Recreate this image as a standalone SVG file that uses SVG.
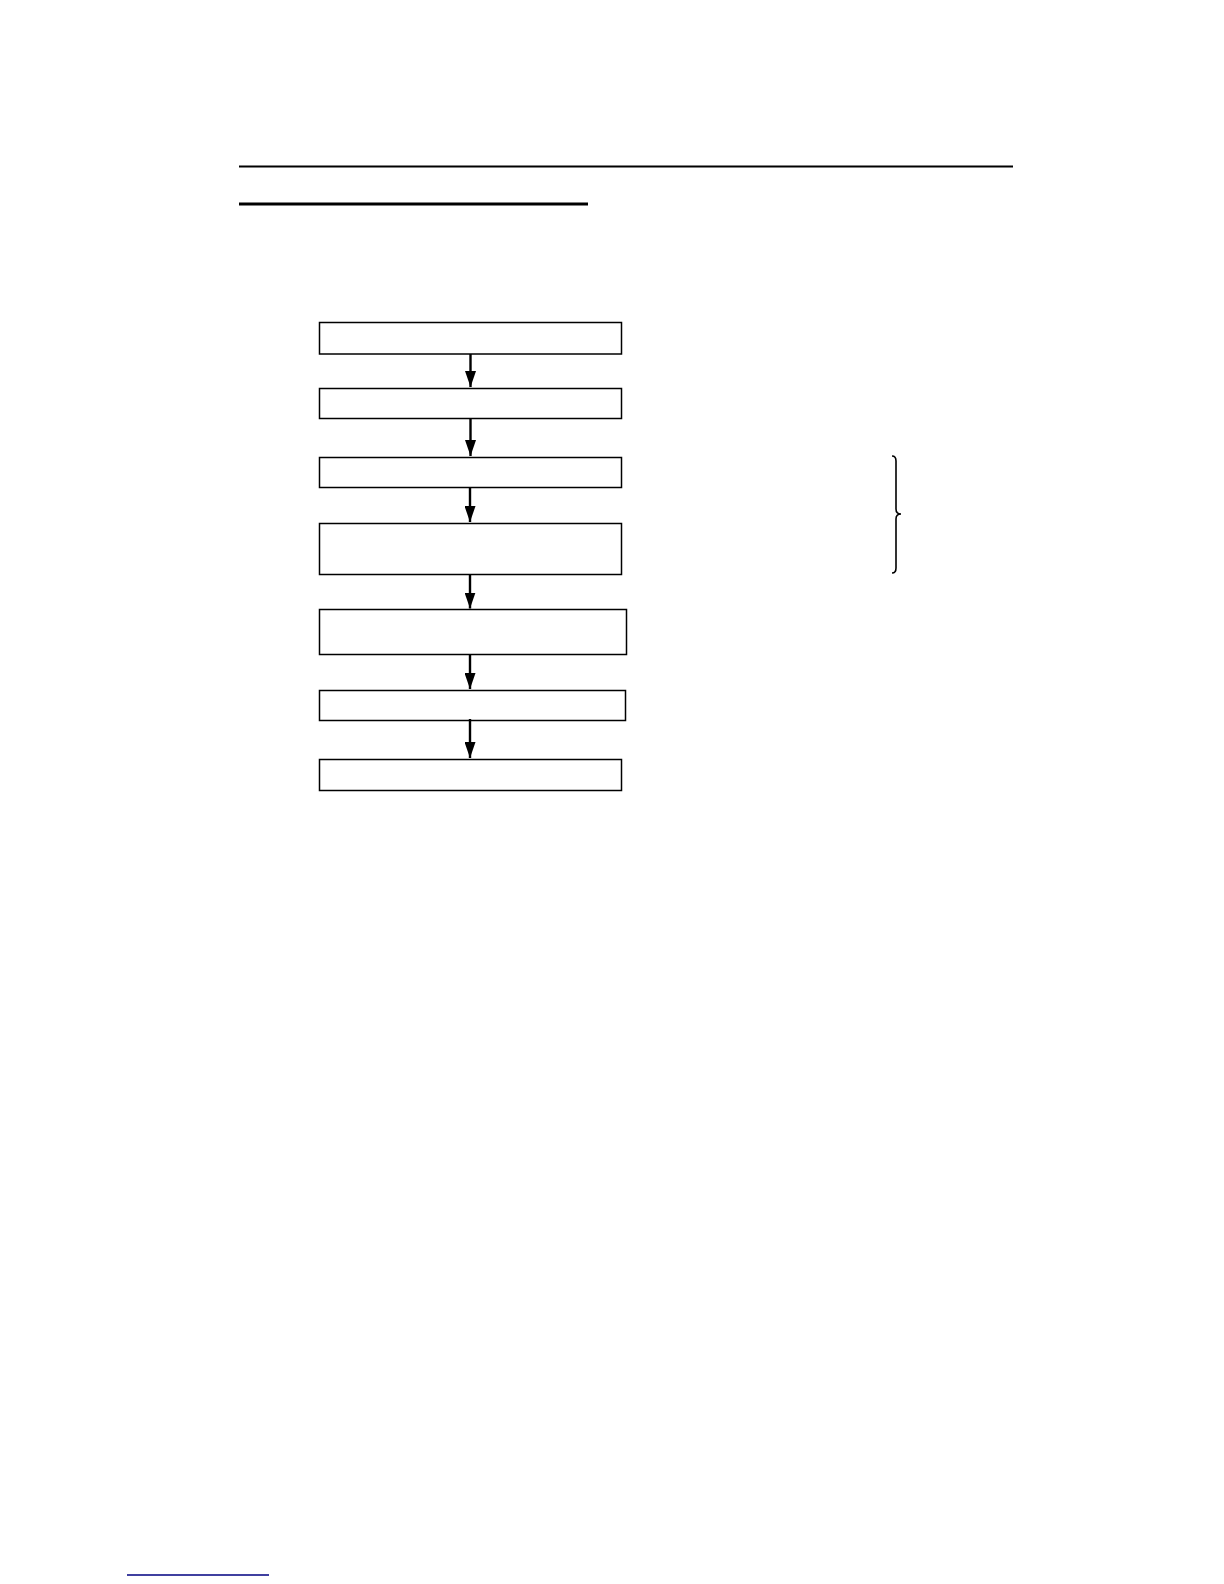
<svg xmlns="http://www.w3.org/2000/svg" width="1224" height="1584" viewBox="0 0 1224 1584">
<style>
.box{fill:#fff;stroke:#000;stroke-width:1.5}
.conn{stroke:#000;stroke-width:2.4;fill:none}
</style>
<defs>
<marker id="ah" markerWidth="16" markerHeight="11" refX="16" refY="5.5" orient="auto" markerUnits="userSpaceOnUse" viewBox="0 0 16 11">
<path d="M0,0 L16,5.5 L0,11 Z" fill="#000"/>
</marker>
</defs>
<rect width="1224" height="1584" fill="#fff"/>
<line x1="239" y1="166.5" x2="1013" y2="166.5" stroke="#000" stroke-width="2.2"/>
<line x1="239" y1="204" x2="588" y2="204" stroke="#000" stroke-width="3"/>
<g id="n1"><rect class="box" x="319.5" y="322.5" width="302" height="31.5"/></g>
<g id="n2"><rect class="box" x="319.5" y="388.5" width="302" height="30"/></g>
<g id="n3"><rect class="box" x="319.5" y="457.5" width="302" height="30"/></g>
<g id="n4"><rect class="box" x="319.5" y="523.5" width="302" height="51"/></g>
<g id="n5"><rect class="box" x="319.5" y="609.5" width="307" height="45"/></g>
<g id="n6"><rect class="box" x="319.5" y="690.5" width="306" height="30"/></g>
<g id="n7"><rect class="box" x="319.5" y="759.5" width="302" height="31"/></g>
<g id="connectors">
<line class="conn" x1="470.5" y1="354" x2="470.5" y2="387" marker-end="url(#ah)"/>
<line class="conn" x1="470.5" y1="418.5" x2="470.5" y2="456" marker-end="url(#ah)"/>
<line class="conn" x1="470" y1="487.5" x2="470" y2="522" marker-end="url(#ah)"/>
<line class="conn" x1="470" y1="574.5" x2="470" y2="608.5" marker-end="url(#ah)"/>
<line class="conn" x1="470" y1="654.5" x2="470" y2="689" marker-end="url(#ah)"/>
<line class="conn" x1="470" y1="719" x2="470" y2="758" marker-end="url(#ah)"/>
</g>
<path d="M892,456 Q896,456 896,461 L896,509 Q896,514 901,514 Q896,514 896,519 L896,568 Q896,573 892,573" fill="none" stroke="#000" stroke-width="1.6"/>
<line x1="127" y1="1575" x2="269" y2="1575" stroke="#000080" stroke-width="1.3"/>
</svg>
